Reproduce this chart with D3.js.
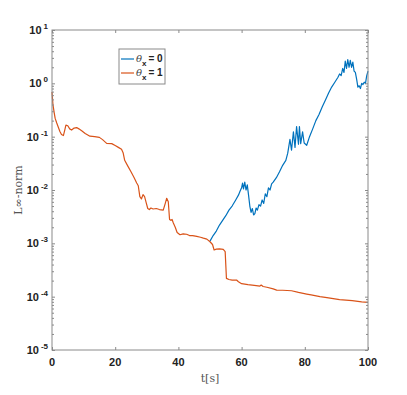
<!DOCTYPE html>
<html>
<head>
<meta charset="utf-8">
<script src="https://cdn.jsdelivr.net/npm/d3@7"></script>
<style>
  body { margin: 0; background: #fff; }
  svg { display: block; }
  .tick-label { font-family: "Liberation Sans", Arial, sans-serif; font-weight: bold; fill: #222; }
  .axis-title { font-family: "DejaVu Serif", "Liberation Serif", serif; fill: #555; }
</style>
</head>
<body>
<div id="chart"></div>
<script>
// time [s] and L-inf norm for theta_x = 0 (blue), starts where it branches off
const blueT = [50, 51, 52, 53, 54, 55, 56, 57, 58, 59, 59.5, 60, 60.3, 60.6, 61, 61.4, 61.8, 62.2, 62.6, 63, 63.4, 63.8, 64.2, 64.6, 65, 65.5, 66, 66.5, 67, 67.5, 68, 68.5, 69, 69.5, 70, 71, 72, 73, 74, 74.6, 75.3, 75.8, 76.4, 76.9, 77.4, 78, 78.3, 78.7, 79.3, 79.8, 80.6, 81.5, 82.5, 83.5, 84.5, 85.5, 86.5, 87.5, 88.5, 89.5, 90.5, 91, 91.5, 92, 92.4, 92.8, 93.2, 93.6, 94, 94.4, 94.8, 95.2, 95.6, 96, 96.4, 96.8, 97.2, 97.6, 98, 98.4, 98.8, 99.2, 99.6, 100];
const blueV = [1.1e-3, 1.4e-3, 1.7e-3, 2.2e-3, 2.7e-3, 3.3e-3, 4.2e-3, 5.0e-3, 6.3e-3, 8.0e-3, 9.5e-3, 1.1e-2, 1.35e-2, 1.05e-2, 1.4e-2, 1.0e-2, 1.25e-2, 8e-3, 5e-3, 3.8e-3, 4.5e-3, 3.4e-3, 3.6e-3, 4.6e-3, 4.2e-3, 5.3e-3, 5.0e-3, 6.5e-3, 5.6e-3, 8.5e-3, 7.5e-3, 1.1e-2, 1.0e-2, 1.3e-2, 1.4e-2, 1.7e-2, 2.2e-2, 2.9e-2, 3.6e-2, 4.9e-2, 8.9e-2, 5.6e-2, 0.123, 6.3e-2, 0.155, 7.2e-2, 0.155, 7.4e-2, 0.123, 7.6e-2, 6.9e-2, 0.1, 0.14, 0.2, 0.26, 0.36, 0.48, 0.65, 0.85, 1.05, 1.3, 1.5, 1.4, 1.9, 1.6, 2.6, 1.9, 2.8, 2.0, 2.7, 2.0, 2.5, 1.7, 1.6, 1.2, 0.85, 0.9, 0.8, 1.0, 0.95, 1.05, 1.0, 1.4, 1.7];

// theta_x = 1 (orange), full run
const orangeT = [0, 0.3, 0.7, 1, 1.5, 2, 2.5, 3, 3.6, 4, 4.4, 5, 5.6, 6.2, 7, 7.8, 8.5, 9.5, 10.5, 12, 13.5, 15, 16, 17.3, 18.9, 20, 21, 22, 22.5, 23, 24, 25, 26, 26.8, 27.3, 27.8, 28.3, 28.8, 29.3, 29.8, 30.3, 30.8, 31.3, 32, 33, 34, 35.2, 35.8, 36.3, 36.8, 37.2, 37.6, 38, 38.4, 39, 39.6, 40.5, 41.5, 42.6, 43.5, 44.5, 45.8, 47, 47.9, 49, 50, 50.8, 51.3, 52, 53, 54.2, 54.8, 55.2, 56, 57, 58.4, 59, 60, 62, 64, 65.8, 66.2, 66.8, 68, 70, 71.1, 73, 75.8, 78, 80.6, 82, 84.8, 87, 91, 95, 98, 100];
const orangeV = [0.69, 0.4, 0.28, 0.22, 0.18, 0.15, 0.125, 0.11, 0.105, 0.13, 0.165, 0.16, 0.14, 0.133, 0.145, 0.148, 0.14, 0.128, 0.115, 0.102, 0.1, 0.097, 0.088, 0.075, 0.074, 0.068, 0.063, 0.058, 0.05, 0.036, 0.028, 0.022, 0.017, 0.0135, 0.012, 0.0075, 0.0068, 0.0082, 0.0075, 0.0058, 0.0045, 0.0043, 0.0046, 0.0044, 0.0045, 0.0043, 0.0042, 0.0055, 0.007, 0.006, 0.0028, 0.0027, 0.0028, 0.0024, 0.002, 0.0016, 0.00145, 0.0015, 0.00148, 0.0014, 0.0014, 0.00135, 0.0013, 0.00125, 0.0012, 0.00107, 0.00095, 0.00075, 0.00078, 0.00079, 0.00077, 0.0007, 0.00022, 0.00021, 0.000205, 0.000205, 0.00019, 0.000175, 0.000168, 0.000163, 0.000158, 0.000165, 0.000155, 0.00015, 0.00014, 0.000133, 0.000132, 0.000129, 0.00012, 0.000112, 0.000108, 0.0001, 0.000096, 0.000088, 0.000084, 0.00008, 0.000078];

const xTicks = [0, 20, 40, 60, 80, 100];
const yExponents = [1, 0, -1, -2, -3, -4, -5];
const legendLabels = ['0', '1'];
const colors = ['#0072BD', '#D95319'];

const W = 407, H = 395;
const margin = { top: 30, right: 39, bottom: 45, left: 52 };
const width = W - margin.left - margin.right;
const height = H - margin.top - margin.bottom;

const x = d3.scaleLinear().domain([0, 100]).range([0, width]);
const y = d3.scaleLog().domain([1e-5, 10]).range([height, 0]);

const svg = d3.select('#chart').append('svg')
  .attr('width', W)
  .attr('height', H);

const g = svg.append('g')
  .attr('transform', `translate(${margin.left},${margin.top})`);

// minor ticks for the log axis
const minor = [];
for (let e = -5; e < 1; e++) {
  for (let m = 2; m <= 9; m++) minor.push(m * Math.pow(10, e));
}

const axisColor = '#8a8a8a';

function styleAxis(sel) {
  sel.select('.domain').remove();
  sel.selectAll('.tick line').attr('stroke', axisColor);
  sel.selectAll('.tick text').remove();
}

// Lines
const line = d3.line()
  .x(d => x(d[0]))
  .y(d => y(d[1]));

const series = [
  d3.zip(blueT, blueV),
  d3.zip(orangeT, orangeV),
];

g.selectAll('path.series')
  .data(series)
  .enter()
  .append('path')
  .attr('class', 'series')
  .attr('fill', 'none')
  .attr('stroke', (d, i) => colors[i])
  .attr('stroke-width', 1.2)
  .attr('stroke-linejoin', 'round')
  .attr('d', line);

// Axes: ticks pointing inward on all four sides.
g.append('g')
  .attr('transform', `translate(0,${height})`)
  .call(d3.axisBottom(x).tickValues(xTicks).tickSize(-3))
  .call(styleAxis);
g.append('g')
  .call(d3.axisTop(x).tickValues(xTicks).tickSize(-3))
  .call(styleAxis);

const yMajor = yExponents.map(e => Math.pow(10, e));
g.append('g')
  .call(d3.axisLeft(y).tickValues(yMajor).tickSize(-3))
  .call(styleAxis);
g.append('g')
  .call(d3.axisLeft(y).tickValues(minor).tickSize(-2))
  .call(styleAxis);
g.append('g')
  .attr('transform', `translate(${width},0)`)
  .call(d3.axisRight(y).tickValues(yMajor).tickSize(-3))
  .call(styleAxis);
g.append('g')
  .attr('transform', `translate(${width},0)`)
  .call(d3.axisRight(y).tickValues(minor).tickSize(-2))
  .call(styleAxis);

// Box
g.append('rect')
  .attr('width', width)
  .attr('height', height)
  .attr('fill', 'none')
  .attr('stroke', axisColor)
  .attr('stroke-width', 1);

// Tick labels
g.selectAll('text.xlab')
  .data(xTicks)
  .enter()
  .append('text')
  .attr('class', 'tick-label')
  .attr('x', d => x(d))
  .attr('y', height + 16)
  .attr('text-anchor', 'middle')
  .attr('font-size', 11)
  .text(d => d);

const ylab = g.selectAll('text.ylab')
  .data(yExponents)
  .enter()
  .append('text')
  .attr('class', 'tick-label')
  .attr('x', -4)
  .attr('y', d => y(Math.pow(10, d)) + 4)
  .attr('text-anchor', 'end')
  .attr('font-size', 11);
ylab.append('tspan').text('10');
ylab.append('tspan')
  .attr('font-size', 8)
  .attr('dx', 2)
  .attr('dy', -5)
  .text(d => d < 0 ? '-' + (-d) : d);

// Axis titles
svg.append('text')
  .attr('class', 'axis-title')
  .attr('x', margin.left + width / 2)
  .attr('y', H - 13)
  .attr('text-anchor', 'middle')
  .attr('font-size', 11)
  .text('t[s]');

svg.append('text')
  .attr('class', 'axis-title')
  .attr('transform', `translate(22,${margin.top + height / 2}) rotate(-90)`)
  .attr('text-anchor', 'middle')
  .attr('font-size', 11)
  .text('L\u221E-norm');

// Legend
const legend = svg.append('g').attr('transform', 'translate(119,49)');
legend.append('rect')
  .attr('width', 46)
  .attr('height', 35)
  .attr('fill', '#fff')
  .attr('stroke', axisColor);

const item = legend.selectAll('g.item')
  .data(legendLabels)
  .enter()
  .append('g')
  .attr('transform', (d, i) => `translate(0,${10 + i * 14})`);

item.append('line')
  .attr('x1', 2)
  .attr('x2', 15)
  .attr('stroke', (d, i) => colors[i])
  .attr('stroke-width', 1.2);

const lt = item.append('text')
  .attr('x', 17)
  .attr('y', 3)
  .attr('font-size', 10);
lt.append('tspan')
  .attr('font-family', 'DejaVu Serif, serif')
  .attr('font-style', 'italic')
  .attr('fill', '#444')
  .text('\u03B8');
lt.append('tspan')
  .attr('class', 'tick-label')
  .attr('font-size', 8)
  .attr('dy', 4)
  .text('x');
lt.append('tspan')
  .attr('class', 'tick-label')
  .attr('dy', -4)
  .attr('dx', 2)
  .text(d => '= ' + d);
</script>
</body>
</html>
